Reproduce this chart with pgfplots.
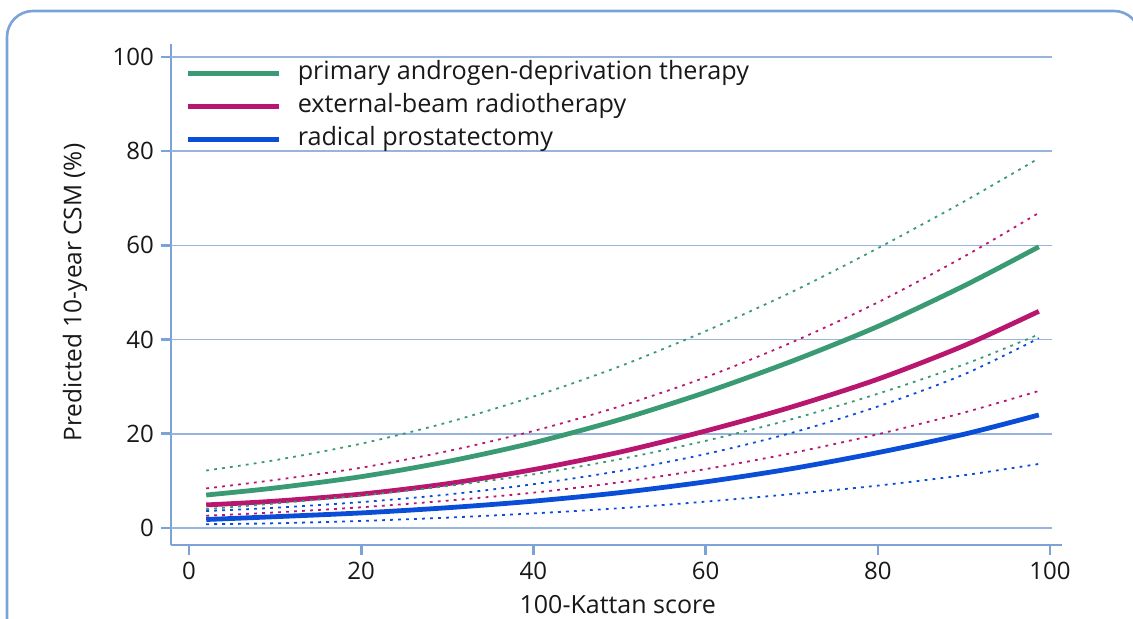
\documentclass[border=0pt]{standalone}
\usepackage{fontspec}
\setmainfont{Open Sans}
\usepackage{pgfplots}
\pgfplotsset{compat=1.18}

\definecolor{adt}{HTML}{3A9A74}
\definecolor{ebrt}{HTML}{B8166F}
\definecolor{rp}{HTML}{0A4ED8}
\definecolor{framec}{HTML}{7BA3D8}
\definecolor{gridc}{HTML}{98B4DC}
\definecolor{txt}{HTML}{1A1718}

\tikzset{
  main/.style={line width=2.4pt},
  bound/.style={line width=0.9pt, dash pattern=on 1.4pt off 2.6pt},
}

\begin{document}
\begin{tikzpicture}[font=\fontsize{12pt}{14pt}\selectfont, text=txt]
\path[use as bounding box] (0,0) rectangle (566.5pt,309.5pt);
% outer rounded frame (runs off the right and bottom edges)
\draw[draw=framec, line width=1.3pt, rounded corners=13pt]
  (3.5pt,-1pt) -- (3.5pt,304pt) -- (570pt,304pt) -- (570pt,-1pt);

\begin{axis}[
  at={(94.5pt,45.5pt)}, anchor=origin,
  x=4.305pt, y=2.355pt,
  xmin=-2.1, xmax=101.4,
  ymin=-3.6, ymax=102.8,
  axis x line*=bottom, axis y line*=left,
  axis line style={draw=framec, line width=1.3pt, -},
  xtick={0,20,...,100}, ytick={0,20,...,100},
  tick style={draw=framec, line width=1.3pt},
  tick align=outside, major tick length=5pt,
  /pgf/number format/assume math mode=true,
  tick label style={text=txt},
  xlabel={100-Kattan score},
  ylabel={Predicted 10-year CSM (\%)},
  every axis x label/.style={at={(rel axis cs:0.5014,-0.1198)}, anchor=center,
    font=\fontsize{12.5pt}{14pt}\selectfont},
  every axis y label/.style={at={(rel axis cs:-0.1076,0.5038)}, anchor=center, rotate=90,
    font=\fontsize{12.2pt}{14pt}\selectfont},
  clip=false,
  legend image code/.code={\draw (0pt,0pt) -- (45.5pt,0pt);},
  legend style={at={(axis cs:-0.4,99.0)}, anchor=north west, draw=none, fill=none,
    inner sep=0pt, row sep=5pt, column sep=8pt,
    font=\fontsize{12.6pt}{14pt}\selectfont,
    nodes={inner sep=0pt, text height=8.5pt, text depth=3pt, anchor=west}},
  legend cell align=left,
]
% horizontal grid
\foreach \g in {0,20,...,100} {
  \edef\tmp{\noexpand\draw[gridc, line width=0.8pt] (axis cs:-2.1,\g) -- (axis cs:100.2,\g);}
  \tmp
}

\addplot[main, adt, smooth] coordinates {
 (2,7.0) (10,8.5) (20,10.9) (30,14.1) (40,18.1) (50,23.0)
 (60,28.8) (70,35.4) (80,42.8) (90,51.4) (98.7,59.7)
};
\addlegendentry{primary androgen-deprivation therapy}
\addplot[main, ebrt, smooth] coordinates {
 (2,4.9) (10,5.7) (20,7.2) (30,9.4) (40,12.4) (50,16.1)
 (60,20.6) (70,25.7) (80,31.6) (90,38.7) (98.7,46.0)
};
\addlegendentry{external-beam radiotherapy}
\addplot[main, rp, smooth] coordinates {
 (2,1.8) (10,2.4) (20,3.2) (30,4.3) (40,5.7) (50,7.5)
 (60,9.8) (70,12.6) (80,16.0) (90,19.9) (98.7,24.0)
};
\addlegendentry{radical prostatectomy}

% confidence bounds
\addplot[bound, adt, smooth, forget plot] coordinates {
 (2,12.2) (10,14.4) (20,17.9) (30,22.4) (40,27.9) (50,34.3)
 (60,41.8) (70,50.1) (80,59.4) (90,69.3) (98.7,78.5)
};
\addplot[bound, adt, smooth, forget plot] coordinates {
 (2,4.0) (10,5.2) (20,6.9) (30,8.9) (40,11.4) (50,14.6)
 (60,18.5) (70,23.1) (80,28.5) (90,34.7) (98.7,41.1)
};
\addplot[bound, ebrt, smooth, forget plot] coordinates {
 (2,8.4) (10,10.2) (20,12.8) (30,16.3) (40,20.6) (50,25.8)
 (60,32.0) (70,39.4) (80,47.9) (90,57.6) (98.7,66.9)
};
\addplot[bound, ebrt, smooth, forget plot] coordinates {
 (2,2.6) (10,3.3) (20,4.4) (30,5.8) (40,7.5) (50,9.7)
 (60,12.5) (70,15.9) (80,19.9) (90,24.5) (98.7,29.1)
};
\addplot[bound, rp, smooth, forget plot] coordinates {
 (2,3.6) (10,4.3) (20,5.5) (30,7.1) (40,9.3) (50,12.1)
 (60,15.7) (70,20.2) (80,25.8) (90,32.6) (98.7,40.3)
};
\addplot[bound, rp, smooth, forget plot] coordinates {
 (2,0.8) (10,1.0) (20,1.5) (30,2.2) (40,3.1) (50,4.2)
 (60,5.6) (70,7.2) (80,9.0) (90,11.2) (98.7,13.6)
};
\end{axis}
\end{tikzpicture}
\end{document}
